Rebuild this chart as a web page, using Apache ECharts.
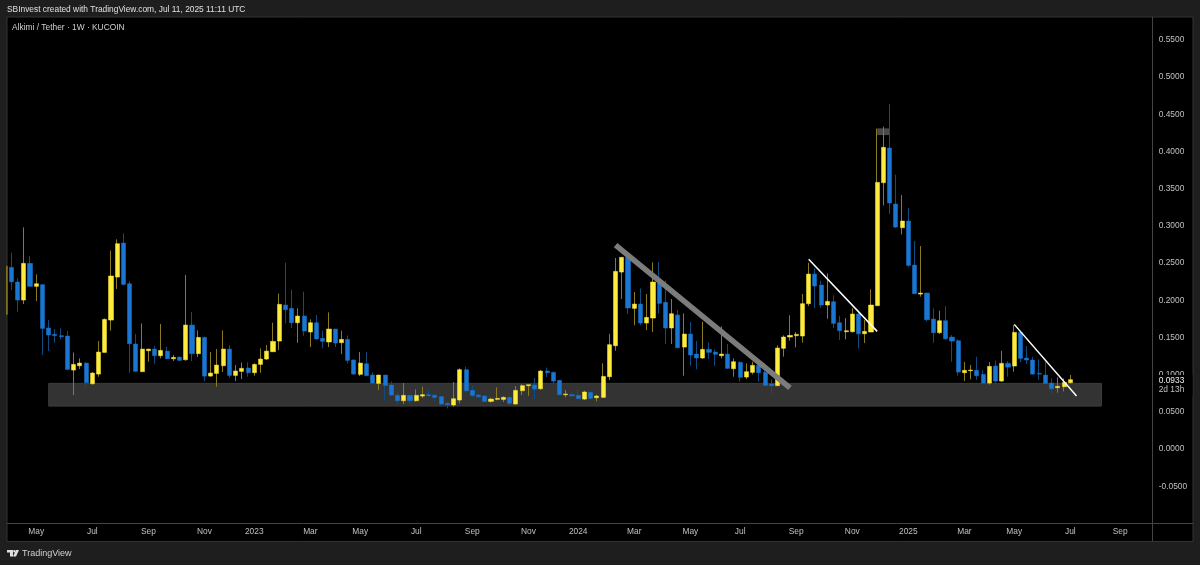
<!DOCTYPE html>
<html>
<head>
<meta charset="utf-8">
<title>Alkimi / Tether</title>
<script src="https://cdn.jsdelivr.net/npm/echarts@6/dist/echarts.min.js"></script>
<style>
html,body{margin:0;padding:0;background:#1e1e1e;}
#chart{width:1200px;height:565px;}
</style>
</head>
<body>
<div id="chart"></div>
<script>
// weekly candles, index 0 = week of 2022-03-28
var opens = [.181,.2442,.2245,.2003,.2496,.2187,.2209,.1627,.1542,.1524,.1519,.1062,.1120,.1156,.0878,.1008,.1299,.1734,.2312,.2769,.2222,.1412,.1040,.1322,.1344,.1255,.1317,.1214,.1237,.1201,.1667,.1282,.1501,.0981,.1017,.1120,.1344,.0990,.1044,.1089,.1026,.1138,.1210,.1308,.1452,.1936,.1891,.1698,.1788,.1573,.1698,.1488,.1439,.1613,.1430,.1474,.1197,.1004,.1147,.0995,.0883,.0995,.0861,.0722,.0650,.0722,.0650,.0713,.0731,.0722,.0704,.0614,.0592,.0659,.1067,.0789,.0726,.0713,.0641,.0668,.0668,.0695,.0605,.0784,.0852,.0861,.0811,.1049,.1031,.0923,.0731,.0731,.0722,.0672,.0762,.0690,.0695,.0972,.1389,.2379,.2577,.1891,.1949,.1694,.1761,.2245,.1972,.1627,.1802,.1371,.1546,.1277,.1224,.1340,.1304,.1255,.1277,.1080,.1165,.0968,.1031,.1125,.1031,.0874,.0852,.1354,.1506,.1524,.1519,.1954,.2352,.2204,.1936,.1980,.1698,.1577,.1577,.1815,.1550,.1573,.1927,.3580,.4046,.3293,.2975,.3065,.2473,.2083,.2097,.1747,.1564,.1725,.1505,.1456,.1026,.1053,.1058,.1004,.0887,.1116,.0914,.1152,.1116,.1568,.1223,.1197,.1017,.0995,.0887,.0825,.0838,.0892];
var closes = [.246,.2249,.2003,.2496,.2187,.2222,.1622,.1533,.1524,.1510,.1071,.1138,.1156,.0892,.1022,.1304,.1743,.2326,.2760,.2213,.1416,.1044,.1344,.1344,.1255,.1326,.1214,.1232,.1192,.1667,.1282,.1501,.0981,.1022,.1129,.1344,.0990,.1049,.1085,.1026,.1138,.1210,.1317,.1447,.1945,.1873,.1698,.1788,.1586,.1698,.1479,.1448,.1613,.1425,.1474,.1192,.1008,.1156,.0986,.0888,.0995,.0856,.0726,.0650,.0722,.0650,.0722,.0731,.0717,.0695,.0605,.0596,.0677,.1067,.0784,.0722,.0704,.0641,.0672,.0681,.0695,.0614,.0789,.0852,.0865,.0807,.1049,.1026,.0914,.0731,.0740,.0717,.0677,.0767,.0681,.0713,.0977,.1403,.2388,.2577,.1896,.1949,.1694,.1770,.2245,.1958,.1627,.1819,.1362,.1546,.1264,.1224,.1340,.1300,.1273,.1277,.1085,.1174,.0964,.1040,.1125,.1026,.0856,.0852,.1358,.1506,.1528,.1542,.1954,.2352,.2191,.1936,.1985,.1689,.1591,.1591,.1815,.1550,.1582,.1936,.3584,.4055,.3307,.2984,.3065,.2469,.2088,.2097,.1738,.1564,.1725,.1483,.1452,.1035,.1058,.1062,.0986,.0887,.1111,.0914,.1152,.1102,.1568,.1219,.1197,.1008,.1008,.0883,.0811,.0843,.0896,.0933];
var lows = [.181,.2137,.1846,.1949,.2187,.1989,.1264,.1317,.1429,.1474,.1062,.0726,.1075,.0838,.0865,.0972,.1299,.1591,.2151,.2200,.1026,.1044,.1040,.1174,.1147,.1219,.1210,.1183,.1188,.1188,.1183,.1237,.0914,.0972,.0838,.1035,.0959,.0914,.0941,.0972,.0986,.1026,.1196,.1308,.1331,.1689,.1627,.1429,.1524,.1371,.1474,.1354,.1371,.1371,.1277,.1152,.0999,.0982,.0986,.0883,.0794,.0650,.0717,.0601,.0605,.0601,.0637,.0686,.0713,.0637,.0583,.0547,.0570,.0614,.0758,.0695,.0686,.0637,.0623,.0655,.0632,.0592,.0605,.0726,.0717,.0672,.0794,.0968,.0874,.0726,.0695,.0699,.0668,.0659,.0681,.0641,.0690,.0928,.1322,.2017,.1815,.1663,.1663,.1600,.1573,.1824,.1412,.1412,.1358,.0986,.1120,.1071,.1210,.1210,.1120,.1219,.1080,.0973,.0906,.0941,.1004,.0906,.0852,.0731,.0852,.1242,.1457,.1367,.1430,.1922,.1895,.1900,.1752,.1627,.1465,.1474,.1568,.1353,.1425,.1573,.1927,.3275,.3159,.2971,.2885,.2451,.2088,.2048,.1716,.1429,.1546,.1470,.1174,.0986,.0914,.0937,.0928,.0887,.0865,.0892,.0905,.0973,.1040,.1165,.1143,.1000,.0928,.0874,.0740,.0757,.0775,.0883];
var highs = [.246,.2639,.2294,.2980,.2594,.2348,.2218,.1734,.1613,.1622,.1586,.1299,.1219,.1165,.1035,.1452,.1756,.2666,.2818,.2899,.2258,.1546,.1689,.1344,.1389,.1680,.1376,.1264,.1241,.2339,.1842,.1595,.1510,.1304,.1344,.1595,.1398,.1129,.1165,.1165,.1152,.1353,.1398,.1698,.2088,.2505,.2142,.1891,.2115,.1743,.1802,.1591,.1837,.1613,.1591,.1528,.1206,.1304,.1304,.1031,.0999,.0995,.0910,.0771,.0888,.0726,.0802,.0838,.0798,.0749,.0708,.0637,.0901,.1085,.1107,.0852,.0744,.0726,.0690,.0829,.0708,.0699,.0847,.0870,.0865,.0955,.1062,.1094,.1040,.0928,.0794,.0776,.0802,.0785,.0767,.0731,.1152,.1546,.2568,.2577,.2586,.2111,.2160,.2084,.2509,.2514,.2263,.2017,.1869,.1824,.1707,.1452,.1712,.1430,.1340,.1649,.1412,.1219,.1179,.1152,.1174,.1161,.1152,.0937,.1394,.1528,.1797,.1573,.2084,.2505,.2428,.2263,.2361,.2065,.1792,.1761,.1891,.1860,.1734,.2146,.4306,.4333,.4637,.3687,.3414,.3239,.2796,.2729,.2101,.1891,.1860,.1922,.1532,.1474,.1170,.1129,.1241,.1062,.1170,.1188,.1322,.1183,.1667,.1577,.1385,.1241,.1206,.1174,.0950,.0964,.0950,.0995];

var firstWeek = '2022-03-28';
var weekSlots = 185; // axis runs on past the last candle
var tickLabels = {
    '2022-05-02':'May','2022-07-04':'Jul','2022-09-05':'Sep','2022-11-07':'Nov',
    '2023-01-02':'2023','2023-03-06':'Mar','2023-05-01':'May','2023-07-03':'Jul','2023-09-04':'Sep','2023-11-06':'Nov',
    '2024-01-01':'2024','2024-03-04':'Mar','2024-05-06':'May','2024-07-01':'Jul','2024-09-02':'Sep','2024-11-04':'Nov',
    '2025-01-06':'2025','2025-03-10':'Mar','2025-05-05':'May','2025-07-07':'Jul','2025-09-01':'Sep'
};
var lastPrice = 0.0933;
var countdown = '2d 13h';

// hand drawn objects on the chart: [week index, price]
var supportBand = [[7, 0.0883], [176, 0.0578]];
var topBox = [[140, 0.4310], [142, 0.4220]];
var thickTrend = [[98, 0.2742], [126, 0.0824]];
var thinTrends = [
    [[129, 0.2550], [140, 0.1582]],
    [[162, 0.1676], [172, 0.0712]]
];

var YELLOW = '#ffeb3b', BLUE = '#1976d2';
var FONT = '"Liberation Sans", sans-serif';

var categories = [];
var d0 = new Date(firstWeek + 'T00:00:00Z');
for (var i = 0; i < weekSlots; i++) {
    categories.push(new Date(d0.getTime() + i * 7 * 86400000).toISOString().slice(0, 10));
}

var wickData = [], bodyData = [];
for (var j = 0; j < opens.length; j++) {
    wickData.push([opens[j], closes[j], lows[j], highs[j]]);
    var bodyTop = Math.max(opens[j], closes[j]), bodyBot = Math.min(opens[j], closes[j]);
    var item = {value: [opens[j], closes[j], bodyBot, bodyTop]};
    if (j == 0) { // the cut off candle at the left edge is only a dim sliver
        item.itemStyle = {color: '#7d7120', borderColor: '#7d7120'};
    }
    bodyData.push(item);
}

function label(text, x, y, size, fill) {
    return {type: 'text', z: 7, silent: true, x: x, y: y, style: {text: text, fill: fill, font: size + 'px ' + FONT, verticalAlign: 'middle'}};
}

var chart = echarts.init(document.getElementById('chart'));
chart.setOption({
    animation: false,
    backgroundColor: '#1e1e1e',
    textStyle: {fontFamily: FONT},
    grid: {left: 2, right: 45.6, top: 17.5, bottom: 41.5},
    xAxis: {
        type: 'category',
        data: categories,
        z: 3,
        axisLine: {show: false},
        axisTick: {show: false},
        splitLine: {show: false},
        axisLabel: {
            color: '#c0c0c0',
            fontFamily: FONT,
            fontSize: 8.4,
            margin: 4.5,
            hideOverlap: false,
            interval: function (idx, val) { return !!tickLabels[val]; },
            formatter: function (val) { return tickLabels[val] || ''; }
        }
    },
    yAxis: {
        type: 'value',
        position: 'right',
        min: -0.10,
        max: 0.58,
        interval: 0.05,
        z: 3,
        axisLine: {show: false},
        axisTick: {show: false},
        splitLine: {show: false},
        axisLabel: {
            color: '#c0c0c0',
            fontFamily: FONT,
            fontSize: 8.4,
            margin: 4.3,
            padding: [2, 0, 0, 0],
            showMinLabel: false,
            showMaxLabel: false,
            formatter: function (v) { return v.toFixed(4); }
        }
    },
    series: [
        {
            type: 'candlestick',
            name: 'wicks',
            z: 3,
            barWidth: 1,
            silent: true,
            data: wickData,
            itemStyle: {color: '#8a7c1e', color0: '#0f4a80', borderColor: '#8a7c1e', borderColor0: '#0f4a80', borderWidth: 1},
            markArea: {
                silent: true,
                data: [
                    [{xAxis: supportBand[0][0], yAxis: supportBand[0][1], itemStyle: {color: '#333333', borderColor: '#3e3e3e', borderWidth: 1}},
                     {xAxis: supportBand[1][0], yAxis: supportBand[1][1]}],
                    [{xAxis: topBox[0][0], yAxis: topBox[0][1], itemStyle: {color: '#4a4a4a'}},
                     {xAxis: topBox[1][0], yAxis: topBox[1][1]}]
                ]
            }
        },
        {
            type: 'candlestick',
            name: 'bodies',
            z: 3,
            barWidth: 4.6,
            silent: true,
            data: bodyData,
            itemStyle: {color: YELLOW, color0: BLUE, borderColor: YELLOW, borderColor0: BLUE, borderWidth: 0.5},
            markLine: {
                silent: true,
                symbol: 'none',
                label: {show: false},
                data: [
                    [{coord: thickTrend[0], lineStyle: {color: '#7c7c7c', width: 5.5, type: 'solid'}}, {coord: thickTrend[1]}],
                    [{coord: thinTrends[0][0], lineStyle: {color: '#ffffff', width: 1.5, type: 'solid'}}, {coord: thinTrends[0][1]}],
                    [{coord: thinTrends[1][0], lineStyle: {color: '#ffffff', width: 1.5, type: 'solid'}}, {coord: thinTrends[1][1]}]
                ]
            }
        }
    ],
    graphic: [
        // panels
        {type: 'rect', z: 0, silent: true, shape: {x: 7, y: 17, width: 1186, height: 524.5}, style: {fill: '#000000', stroke: '#333333', lineWidth: 1}},
        // frame over the grid overflow on the left
        {type: 'rect', z: 4, silent: true, shape: {x: 0, y: 17, width: 6, height: 524}, style: {fill: '#1e1e1e'}},
        {type: 'line', z: 4, silent: true, shape: {x1: 7, y1: 523.5, x2: 1193, y2: 523.5}, style: {stroke: '#444444', lineWidth: 1}},
        {type: 'line', z: 4, silent: true, shape: {x1: 1152.5, y1: 17, x2: 1152.5, y2: 541}, style: {stroke: '#444444', lineWidth: 1}},
        // header
        label('SBInvest created with TradingView.com, Jul 11, 2025 11:11 UTC', 7, 10, 8.4, '#e0e0e0'),
        label('Alkimi / Tether \u00b7 1W \u00b7 KUCOIN', 12, 27.5, 8.4, '#d0d0d0'),
        // last price tag
        {type: 'rect', z: 6, silent: true, shape: {x: 1153, y: 375, width: 39.5, height: 21}, style: {fill: '#000000'}},
        label(lastPrice.toFixed(4), 1158.7, 380.7, 8.4, '#f0f0f0'),
        label(countdown, 1158.7, 390, 8.4, '#c0c0c0'),
        // footer logo and name
        {type: 'polygon', z: 6, silent: true, shape: {points: [[7, 550], [13, 550], [13, 556.5], [10, 556.5], [10, 552.5], [7, 552.5]]}, style: {fill: '#e0e0e0'}},
        {type: 'circle', z: 6, silent: true, shape: {cx: 14.4, cy: 551.2, r: 1.2}, style: {fill: '#e0e0e0'}},
        {type: 'polygon', z: 6, silent: true, shape: {points: [[16, 550], [19, 550], [16, 556.5], [13, 556.5]]}, style: {fill: '#e0e0e0'}},
        label('TradingView', 22, 553.3, 9, '#d0d0d0')
    ]
});
</script>
</body>
</html>
